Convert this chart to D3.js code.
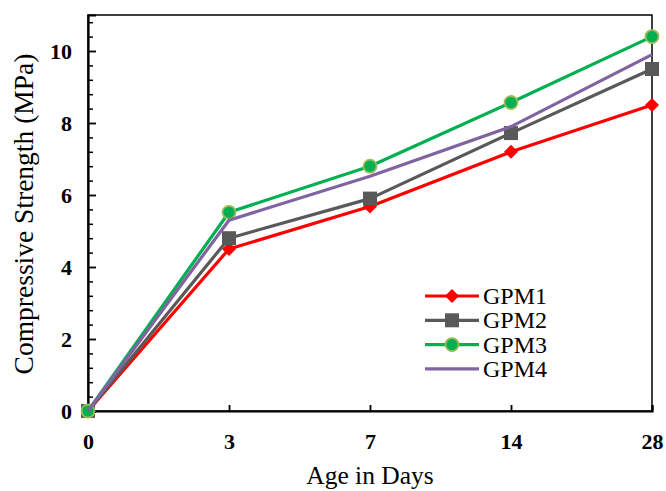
<!DOCTYPE html>
<html>
<head>
<meta charset="utf-8">
<script src="https://cdn.jsdelivr.net/npm/d3@7"></script>
<style>
  body { margin: 0; background: #fff; }
</style>
</head>
<body>
<div id="chart"></div>
<script>
// values
const days = ["0", "3", "7", "14", "28"]
const gpm1 = [0, 4.5, 5.68, 7.2, 8.5]
const gpm2 = [0, 4.8, 5.9, 7.72, 9.5]
const gpm3 = [0, 5.52, 6.8, 8.57, 10.4]
const gpm4 = [0, 5.3, 6.52, 7.9, 9.9]
const seriesNames = ["GPM1", "GPM2", "GPM3", "GPM4"]
const yMajorTicks = [0, 2, 4, 6, 8, 10]

const width = 666, height = 491
const margin = { top: 15, right: 14, bottom: 80, left: 88 }
const serif = "'Liberation Serif'"

const series = [
  { name: seriesNames[0], values: gpm1, color: "#ff0000", marker: "diamond" },
  { name: seriesNames[1], values: gpm2, color: "#595959", marker: "square" },
  { name: seriesNames[2], values: gpm3, color: "#00b050", marker: "circle" },
  { name: seriesNames[3], values: gpm4, color: "#8064a2", marker: "none" }
]

const svg = d3.select("#chart").append("svg")
  .attr("width", width)
  .attr("height", height)

const x = d3.scalePoint()
  .domain(days)
  .range([margin.left, width - margin.right])
  .padding(0)

const y = d3.scaleLinear()
  .domain([0, 11])
  .range([height - margin.bottom, margin.top])

// frame
svg.append("rect")
  .attr("x", margin.left)
  .attr("y", margin.top)
  .attr("width", width - margin.right - margin.left)
  .attr("height", height - margin.bottom - margin.top)
  .attr("fill", "none")
  .attr("stroke", "#000")
  .attr("stroke-width", 1.5)

// y axis, ticks pointing inside
const minorTicks = d3.range(0, 11.01, 0.4).filter(v => Math.abs(v / 2 - Math.round(v / 2)) > 0.01)
svg.append("g")
  .attr("transform", `translate(${margin.left},0)`)
  .call(d3.axisRight(y).tickValues(minorTicks).tickSize(5).tickFormat(""))
  .call(g => g.select(".domain").remove())
  .selectAll("line").attr("stroke-width", 1.5)

const yAxis = svg.append("g")
  .attr("transform", `translate(${margin.left},0)`)
  .call(d3.axisRight(y).tickValues(yMajorTicks).tickSize(8).tickFormat(d3.format("d")))
yAxis.select(".domain").attr("stroke-width", 2.2)
yAxis.selectAll("line").attr("stroke-width", 1.8)
yAxis.selectAll("text")
  .attr("x", -16)
  .attr("dy", "0.35em")
  .attr("text-anchor", "end")
  .style("font-size", "22px")
  .style("font-weight", "bold")
  .style("font-family", serif)
  .attr("fill", "#000")

// x axis, ticks pointing up
const xAxis = svg.append("g")
  .attr("transform", `translate(0,${height - margin.bottom})`)
  .call(d3.axisTop(x).tickSize(6))
xAxis.select(".domain").attr("stroke-width", 2.2)
xAxis.selectAll("line").attr("stroke-width", 1.8)
xAxis.selectAll("text")
  .attr("y", 38)
  .attr("dy", 0)
  .style("font-size", "22px")
  .style("font-weight", "bold")
  .style("font-family", serif)
  .attr("fill", "#000")

// lines
const line = d3.line()
  .x((d, i) => x(days[i]))
  .y(d => y(d))

function drawMarker(g, type, color) {
  if (type === "diamond") {
    g.append("path").attr("d", "M0,-7L7,0L0,7L-7,0Z").attr("fill", color)
  } else if (type === "square") {
    g.append("rect").attr("x", -7).attr("y", -7).attr("width", 14).attr("height", 14).attr("fill", color)
  } else if (type === "circle") {
    g.append("circle").attr("r", 6.5).attr("fill", color)
      .attr("stroke", "#9bbb59").attr("stroke-width", 1.8)
  }
}

series.forEach(s => {
  svg.append("path")
    .datum(s.values)
    .attr("d", line)
    .attr("fill", "none")
    .attr("stroke", s.color)
    .attr("stroke-width", 3.2)
    .attr("stroke-linejoin", "round")
  s.values.forEach((v, i) => {
    const g = svg.append("g").attr("transform", `translate(${x(days[i])},${y(v)})`)
    drawMarker(g, s.marker, s.color)
  })
})

// legend
const legend = svg.append("g").attr("transform", "translate(425,296)")
series.forEach((s, i) => {
  const row = legend.append("g").attr("transform", `translate(0,${i * 24.3})`)
  row.append("line")
    .attr("x1", 0).attr("x2", 54)
    .attr("stroke", s.color).attr("stroke-width", 3.2)
  const m = row.append("g").attr("transform", "translate(27,0)")
  drawMarker(m, s.marker, s.color)
  row.append("text")
    .attr("x", 58)
    .attr("dy", "0.33em")
    .style("font-size", "24px")
    .style("font-family", serif)
    .text(s.name)
})

// axis titles
svg.append("text")
  .attr("x", (margin.left + width - margin.right) / 2)
  .attr("y", 484)
  .attr("text-anchor", "middle")
  .style("font-size", "25.5px")
  .style("font-family", serif)
  .text("Age in Days")

svg.append("text")
  .attr("transform", `translate(33,214) rotate(-90)`)
  .attr("text-anchor", "middle")
  .style("font-size", "27.5px")
  .style("font-family", serif)
  .text("Compressive Strength (MPa)")
</script>
</body>
</html>
